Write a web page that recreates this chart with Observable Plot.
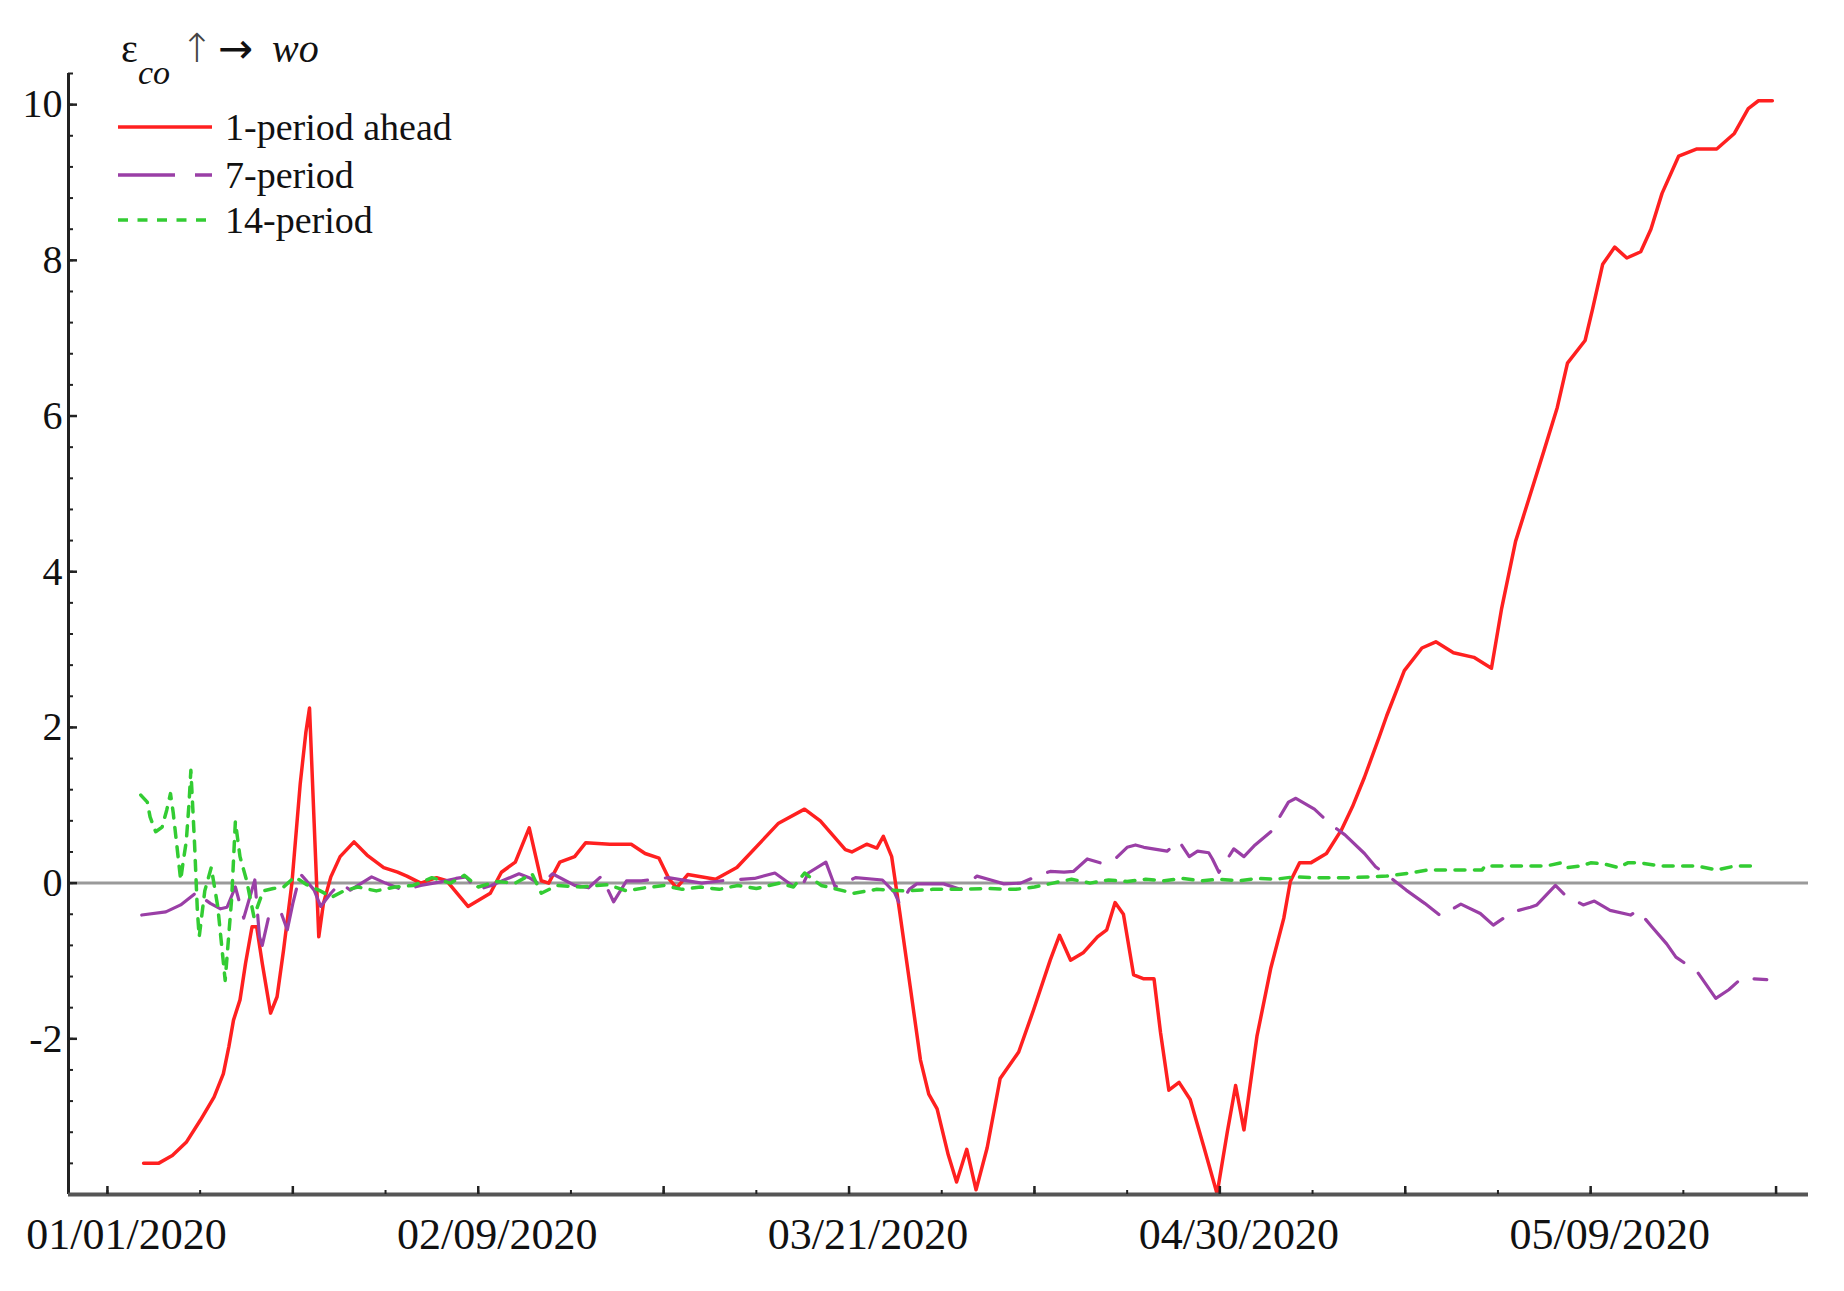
<!DOCTYPE html>
<html><head><meta charset="utf-8">
<script src="https://cdn.jsdelivr.net/npm/d3@7"></script>
<script src="https://cdn.jsdelivr.net/npm/@observablehq/plot@0.6"></script>
<style>
html,body{margin:0;padding:0;background:#fff;}
#wrap{position:relative;width:1844px;height:1291px;overflow:hidden;}
#overlay{position:absolute;left:0;top:0;}
</style></head><body>
<div id="wrap"></div>
<script>
// ---- tick labels ----
const xTickDays = [0, 40, 80, 120, 160];
const xTickLabels = ["01/01/2020", "02/09/2020", "03/21/2020", "04/30/2020", "05/09/2020"];
const yTickValues = [-2, 0, 2, 4, 6, 8, 10];
const seriesNames = ["1-period ahead", "7-period", "14-period"];

// ---- 1-period ahead (red) ----
const redDays = [3.9,5.5,7,8.5,10,11.5,12.5,13.1,13.6,14.3,14.9,15.6,16.1,16.7,17.6,18.3,19.0,19.9,20.8,21.4,21.8,22.3,22.8,23.3,24.1,25.1,26.6,28,29.8,31.3,32.3,33.8,35.5,36.6,38.9,41.3,42.5,44,45.5,46.8,47.6,48.8,50.4,51.6,54.2,56.5,58,59.5,60.6,61.4,62.6,65.6,67.9,72.4,75.2,76.9,79.6,80.3,81.9,83,83.7,84.6,85.5,86.6,87.7,88.6,89.5,90.7,91.6,92.7,93.7,94.9,96.3,98.3,99.9,101.7,102.7,103.9,105.3,106.8,107.8,108.7,109.6,110.7,111.8,112.9,113.6,114.5,115.6,116.8,118.3,119.7,120.8,121.7,122.6,124,125.5,126.9,127.6,128.6,129.8,131.5,133.1,134.3,135.6,137.2,138,139.9,141.8,143.3,145.2,147.4,149.3,150.4,151.9,153.4,154.9,156.4,157.5,159.4,160.2,161.3,162.6,163.9,165.4,166.5,167.7,169.5,171.4,173.6,175.5,177,178.1,179.6];
const redVals = [-3.6,-3.6,-3.5,-3.33,-3.05,-2.75,-2.45,-2.1,-1.76,-1.5,-1.03,-0.56,-0.56,-1.03,-1.67,-1.46,-0.86,0,1.28,1.93,2.25,0.77,-0.69,-0.26,0.08,0.34,0.53,0.36,0.2,0.14,0.09,0.0,0.07,0.03,-0.3,-0.13,0.14,0.27,0.71,0.03,0,0.27,0.34,0.52,0.5,0.5,0.38,0.32,0.05,-0.06,0.11,0.05,0.2,0.77,0.95,0.8,0.43,0.4,0.5,0.45,0.6,0.34,-0.4,-1.33,-2.27,-2.71,-2.9,-3.49,-3.84,-3.42,-3.94,-3.4,-2.51,-2.17,-1.63,-0.99,-0.67,-0.99,-0.89,-0.69,-0.6,-0.25,-0.4,-1.18,-1.23,-1.23,-1.92,-2.66,-2.56,-2.78,-3.4,-3.99,-3.2,-2.6,-3.17,-1.97,-1.09,-0.45,0.02,0.26,0.26,0.38,0.68,0.98,1.36,1.88,2.15,2.73,3.02,3.1,2.96,2.9,2.76,3.53,4.39,4.96,5.53,6.11,6.68,6.97,7.37,7.95,8.17,8.03,8.11,8.4,8.86,9.34,9.43,9.43,9.63,9.95,10.05,10.05];

// ---- 7-period (purple) ----
const purpleDays = [3.7,6.3,7.9,9.5,9.7,10.4,11.1,12.2,12.9,13.8,14.7,15.9,16.4,16.7,17.4,18.7,19.4,20,20.8,21.4,22.3,23,24.1,25.1,26.2,28.5,30,31.9,33.8,36.1,37.6,38.7,39.8,41.4,44.4,45.5,46.8,48,50.4,51.9,53.3,54.6,56,57.6,60.5,64.1,66.3,69.8,72,74.7,75.6,77.5,78.5,80.7,83.6,84.9,85.5,86.5,87.3,90.2,92,93.8,95.3,96.7,98.5,100.3,101.7,103.2,104.2,105.7,107.1,108.6,110,110.9,111.8,114.3,115.6,116.7,117.6,118.8,119.2,119.9,121.5,122.6,123.8,125.5,127.4,128.2,130.2,132.1,133.5,135.6,136.8,138.3,140.1,142.1,143.8,146,148.1,149.5,151.6,153.5,154.2,156.2,157.2,159.2,160.4,162.1,164.3,165.1,166.6,168.2,169.2,171.5,173.5,174.9,176.3,179];
const purpleVals = [-0.41,-0.37,-0.28,-0.13,-0.1,-0.2,-0.26,-0.33,-0.31,-0.05,-0.45,0.04,-0.69,-0.8,-0.43,-0.37,-0.6,-0.26,0.12,0.04,-0.09,-0.3,-0.13,0,-0.09,0.08,0,-0.09,-0.03,0.02,0.06,0.08,-0.09,-0.03,0.12,0.07,-0.03,0.12,-0.03,-0.06,0.09,-0.24,0.03,0.03,0.07,0,0.03,0.06,0.13,-0.1,0.13,0.27,-0.05,0.07,0.04,-0.12,-0.28,-0.08,-0.01,-0.01,-0.08,0.09,0.04,-0.01,0,0.09,0.15,0.14,0.15,0.31,0.26,0.3,0.46,0.49,0.46,0.41,0.54,0.34,0.41,0.39,0.31,0.14,0.44,0.34,0.49,0.66,1.04,1.09,0.95,0.74,0.62,0.38,0.21,0.08,-0.09,-0.26,-0.42,-0.27,-0.39,-0.54,-0.37,-0.31,-0.28,-0.03,-0.15,-0.28,-0.23,-0.35,-0.41,-0.35,-0.56,-0.78,-0.95,-1.14,-1.48,-1.37,-1.22,-1.24];

// ---- 14-period (green) ----
const greenDays = [3.6,4.3,4.6,5.2,5.9,6.4,6.8,7.1,7.5,7.9,8.2,8.5,8.8,9.0,9.2,9.4,9.7,9.9,10.5,11.2,11.9,12.7,13.4,13.8,14.3,15,15.8,16.8,17.9,19,20.2,21.5,22.8,24.2,25.5,27,29,31,33,35,37,38.5,40,42,44,45.8,46.8,48.5,51,54,56,58,60,62,64,66,68,70,72.5,74,75.2,77,80.5,83,86,89,92,95,98,100,102,104,106,108,110,112,114,116,118,120,122,124,126,128,130,134,138,140.5,142.5,148.3,148.6,155.2,156.8,157.5,159,160,161.3,163,164,165.4,167.4,171.4,173.6,175.6,178];
const greenVals = [1.13,1.04,0.85,0.66,0.72,0.94,1.15,0.9,0.47,0.04,0.3,0.53,1.02,1.45,0.98,0.5,-0.35,-0.69,-0.1,0.2,-0.3,-1.25,-0.2,0.79,0.34,0.04,-0.43,-0.1,-0.07,-0.05,0.08,-0.02,-0.09,-0.18,-0.1,-0.05,-0.1,-0.05,-0.03,0.07,0.0,0.1,-0.05,0.02,0.0,0.12,-0.13,-0.03,-0.05,-0.02,-0.1,-0.06,-0.03,-0.08,-0.05,-0.08,-0.03,-0.07,0.0,-0.05,0.13,-0.03,-0.13,-0.08,-0.1,-0.08,-0.08,-0.07,-0.08,-0.05,0.0,0.05,0.0,0.04,0.02,0.05,0.03,0.06,0.03,0.05,0.03,0.06,0.05,0.08,0.07,0.07,0.09,0.13,0.17,0.17,0.22,0.22,0.26,0.2,0.22,0.26,0.25,0.2,0.26,0.26,0.22,0.22,0.17,0.22,0.22];

const seriesColors = ["#ff2020", "#9a3fa6", "#33cc33"];
const seriesDash = [null, "58,18", "10,9.5"];

const toRows = (days, vals) => days.map((d, i) => ({day: d, value: vals[i]}));
const red = toRows(redDays, redVals);
const purple = toRows(purpleDays, purpleVals);
const green = toRows(greenDays, greenVals);

const W = 1844, H = 1291, mL = 68, mR = 36, mT = 73, mB = 97;
const innerW = W - mL - mR, innerH = H - mT - mB;
const xDomain = [-4.2, 183.5], yDomain = [-4, 10.4];
const xMinor = d3.range(0, 181, 10);
const xMajor = d3.range(0, 181, 20);
const yMinor = d3.range(-3.6, 10.41, 0.4).map(v => Math.round(v * 10) / 10);

const chart = Plot.plot({
  width: W, height: H,
  marginLeft: mL, marginRight: mR, marginTop: mT, marginBottom: mB,
  x: {type: "linear", domain: xDomain, axis: null},
  y: {type: "linear", domain: yDomain, axis: null},
  style: {fontFamily: "'Liberation Serif', 'Times New Roman', serif", background: "#fff", color: "#111"},
  marks: [
    Plot.ruleY([0], {stroke: "#9a9a9a", strokeWidth: 3}),
    Plot.lineY(red, {x: "day", y: "value", stroke: seriesColors[0], strokeWidth: 3.5}),
    Plot.lineY(purple, {x: "day", y: "value", stroke: seriesColors[1], strokeWidth: 3.2, strokeDasharray: seriesDash[1]}),
    Plot.lineY(green, {x: "day", y: "value", stroke: seriesColors[2], strokeWidth: 3.5, strokeDasharray: seriesDash[2]}),
    // axes
    Plot.ruleX([xDomain[0]], {stroke: "#222", strokeWidth: 3}),
    Plot.ruleY([yDomain[0]], {stroke: "#555", strokeWidth: 4}),
    Plot.tickY(yMinor, {y: d => d, insetRight: innerW - 5, stroke: "#222", strokeWidth: 2}),
    Plot.tickY(yTickValues, {y: d => d, insetRight: innerW - 9, stroke: "#222", strokeWidth: 2.5}),
    Plot.tickX(xMinor, {x: d => d, insetTop: innerH - 4, stroke: "#222", strokeWidth: 2}),
    Plot.tickX(xMajor, {x: d => d, insetTop: innerH - 8, stroke: "#222", strokeWidth: 2.5}),
    Plot.text(yTickValues, {x: xDomain[0], y: d => d, text: d => String(d), textAnchor: "end", dx: -6, fontSize: 40, fill: "#111"}),
    Plot.text(xTickDays, {x: d => d, y: yDomain[0], text: (d, i) => xTickLabels[i], dy: 40, dx: 19, fontSize: 44, fill: "#111"})
  ]
});
const wrap = document.getElementById("wrap");
wrap.appendChild(chart);

// ---- title and legend overlay ----
const ov = d3.select(wrap).append("svg").attr("id", "overlay")
  .attr("width", 600).attr("height", 260)
  .attr("font-family", "'Liberation Serif', 'Times New Roman', serif").attr("fill", "#111");
ov.append("text").attr("x", 121).attr("y", 62).attr("font-size", 40).text("ε");
ov.append("text").attr("x", 138).attr("y", 84).attr("font-size", 34).attr("font-style", "italic").text("co");
ov.append("text").attr("x", 180).attr("y", 62).attr("font-size", 40).attr("font-family", "'DejaVu Sans', sans-serif").attr("font-weight", 200).attr("fill", "#444").text("↑");
ov.append("text").attr("x", 218).attr("y", 63).attr("font-size", 42).attr("font-family", "'DejaVu Sans', sans-serif").text("→");
ov.append("text").attr("x", 272).attr("y", 62).attr("font-size", 40).attr("font-style", "italic").text("wo");

const legY = [127, 175, 220];
seriesNames.forEach((name, i) => {
  const line = ov.append("line").attr("x1", 118).attr("x2", 212).attr("y1", legY[i]).attr("y2", legY[i])
    .attr("stroke", seriesColors[i]).attr("stroke-width", 3.5);
  if (i === 1) line.attr("stroke-dasharray", "57,20");
  if (i === 2) line.attr("stroke-dasharray", "10,9.5");
  ov.append("text").attr("x", 225).attr("y", legY[i] + 13).attr("font-size", 38).text(name);
});
</script>
</body></html>
